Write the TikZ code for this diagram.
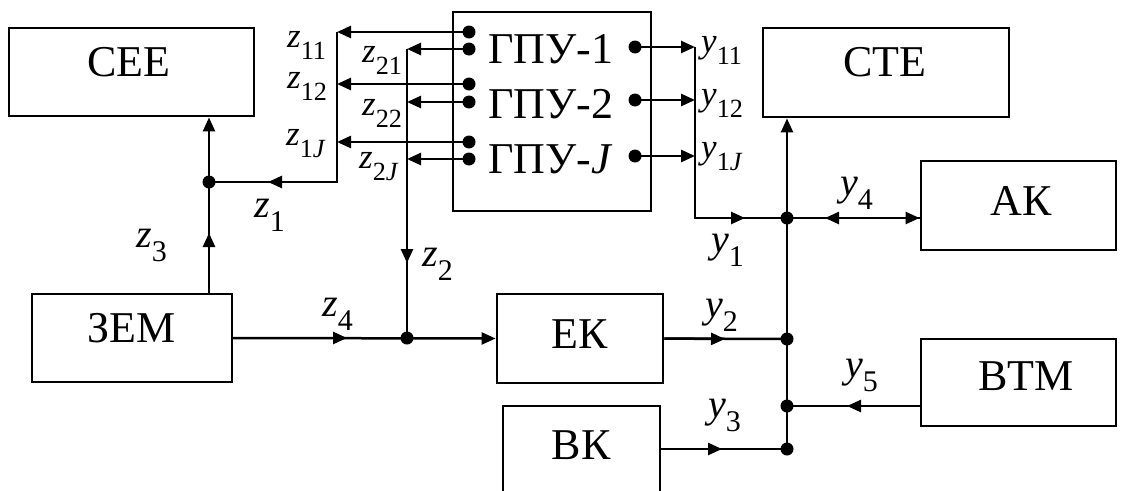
\documentclass[tikz,border=0pt]{standalone}
\usepackage{fontspec}
\setmainfont{Liberation Serif}
\usetikzlibrary{arrows.meta}
\newcommand\lab[2]{\textit{#1}\raisebox{-0.36em}{\scalebox{0.75}{#2}}}
\begin{document}
\begin{tikzpicture}[x=1pt,y=-1pt,
  box/.style={draw,line width=2.9pt,inner sep=0pt},
  btxt/.style={font=\fontsize{44}{44}\selectfont,anchor=base,inner sep=0pt},
  ln/.style={line width=2.5pt},
  arr/.style={ln,-{Triangle[length=14pt,width=12pt]}},
  dot/.style={circle,fill,inner sep=0pt,minimum size=13pt},
  lbl/.style={font=\fontsize{40}{40}\selectfont,anchor=base west,inner sep=0pt},
  slbl/.style={font=\fontsize{35}{35}\selectfont,anchor=base west,inner sep=0pt}]
\fill[white] (0,0) rectangle (1121,490);
\useasboundingbox (0,0) rectangle (1121,490);

% boxes
\node[box,minimum width=245pt,minimum height=88pt] (cee) at (131.5,72) {};
\node[box,minimum width=246pt,minimum height=89pt] (cte) at (886,72.5) {};
\node[box,minimum width=198pt,minimum height=199pt] (gpu) at (552,111.5) {};
\node[box,minimum width=195pt,minimum height=89pt] (ak) at (1018.5,205.5) {};
\node[box,minimum width=195pt,minimum height=87pt] (vtm) at (1018.5,382.5) {};
\node[box,minimum width=166pt,minimum height=89pt] (ek) at (580,338.5) {};
\node[box,minimum width=157pt,minimum height=114pt] (vk) at (581.5,463) {};
\node[box,minimum width=200pt,minimum height=88pt] (zem) at (132,338) {};

% box texts
\node[btxt] (tcee) at (129,76) {СЕЕ};
\node[btxt] (tcte) at (885,76) {СТЕ};
\node[btxt] (tak) at (1021,215) {АК};
\node[btxt] (tvtm) at (1026,390) {ВТМ};
\node[btxt] (tek) at (580,348) {ЕК};
\node[btxt] (tvk) at (581,459) {ВК};
\node[btxt] (tzem) at (131.5,342) {ЗЕМ};
\node[btxt,anchor=base west] (g1) at (488,63) {ГПУ-1};
\node[btxt,anchor=base west] (g2) at (488,118) {ГПУ-2};
\node[btxt,anchor=base west] (gJ) at (488,173) {ГПУ-\textit{J}};

% dots on GPU
\node[dot] (d11) at (469,32) {};
\node[dot] (d21) at (469,49) {};
\node[dot] (d12) at (469,84) {};
\node[dot] (d22) at (469,102) {};
\node[dot] (d1J) at (469,142) {};
\node[dot] (d2J) at (469,159) {};
\node[dot] (r1) at (635,47) {};
\node[dot] (r2) at (635,100) {};
\node[dot] (rJ) at (635,156) {};

% junction coordinates
\coordinate (v1top) at (337,32);
\coordinate (v1bot) at (337,182);
\coordinate (v2top) at (407,49);
\node[dot] (J1) at (209,182) {};
\node[dot] (J2) at (407,338) {};
\coordinate (vrtop) at (695,47);
\coordinate (vrbot) at (695,218);
\node[dot] (B1) at (787,218) {};
\node[dot] (B2) at (787,339) {};
\node[dot] (B5) at (787,406) {};
\node[dot] (B3) at (787,449) {};

% mid-arrow tips
\coordinate (m1) at (268,182);
\coordinate (m2) at (407,263);
\coordinate (m3) at (209,233);
\coordinate (m4) at (347,338);
\coordinate (my1) at (745,218);
\coordinate (my4) at (825,218);
\coordinate (my2) at (725,339);
\coordinate (my5) at (847,406);
\coordinate (my3) at (722,449);

% left GPU outputs
\draw[arr] (d11.center) -- (v1top);
\draw[arr] (d12.center) -- (d12.center -| v1top);
\draw[arr] (d1J.center) -- (d1J.center -| v1top);
\draw[arr] (d21.center) -- (v2top);
\draw[arr] (d22.center) -- (d22.center -| v2top);
\draw[arr] (d2J.center) -- (d2J.center -| v2top);
\draw[ln] (v1top) -- (v1bot) -- (J1.center);
\draw[arr] (v1bot) -- (m1);
\draw[ln] (v2top) -- (J2.center);
\draw[arr] (v2top) -- (m2);

% ZEM connections
\draw[arr] (J1.center |- zem.north) -- (J1.center |- cee.south);
\draw[arr] (J1.center |- zem.north) -- (m3);
\draw[arr] (zem.east) -- (ek.west);
\draw[arr] (zem.east) -- (m4);

% right GPU outputs
\draw[arr] (r1.center) -- (vrtop);
\draw[arr] (r2.center) -- (r2.center -| vrtop);
\draw[arr] (rJ.center) -- (rJ.center -| vrtop);
\draw[ln] (vrtop) -- (vrbot) -- (B1.center);
\draw[arr] (vrbot) -- (my1);

% bus
\draw[arr] (B3.center) -- (B3.center |- cte.south);
\draw[arr] (B1.center) -- (B1.center -| ak.west);
\draw[arr] (B1.center -| ak.west) -- (my4);
\draw[ln] (ek.east) -- (B2.center);
\draw[arr] (ek.east) -- (my2);
\draw[ln] (B5.center -| vtm.west) -- (B5.center);
\draw[arr] (B5.center -| vtm.west) -- (my5);
\draw[ln] (B3.center -| vk.east) -- (B3.center);
\draw[arr] (B3.center -| vk.east) -- (my3);

% labels
\node[slbl] (lz11) at (287,47) {\lab{z}{11}};
\node[slbl] (lz21) at (362,62) {\lab{z}{21}};
\node[slbl] (lz12) at (287,88) {\lab{z}{12}};
\node[slbl] (lz22) at (362,115) {\lab{z}{22}};
\node[slbl] (lz1J) at (286,145) {\lab{z}{1\textit{J}}};
\node[slbl] (lz2J) at (359,168) {\lab{z}{2\textit{J}}};
\node[lbl] (lz1) at (254,217) {\lab{z}{1}};
\node[lbl] (lz2) at (422,266) {\lab{z}{2}};
\node[lbl] (lz3) at (136,247) {\lab{z}{3}};
\node[lbl] (lz4) at (322,316) {\lab{z}{4}};
\node[slbl] (ly11) at (701,52) {\lab{y}{11}};
\node[slbl] (ly12) at (701,105) {\lab{y}{12}};
\node[slbl] (ly1J) at (701,158) {\lab{y}{1\textit{J}}};
\node[lbl] (ly1) at (711,252) {\lab{y}{1}};
\node[lbl] (ly4) at (840,195) {\lab{y}{4}};
\node[lbl] (ly2) at (705,317) {\lab{y}{2}};
\node[lbl] (ly5) at (845,377) {\lab{y}{5}};
\node[lbl] (ly3) at (708,417) {\lab{y}{3}};
\end{tikzpicture}
\end{document}
